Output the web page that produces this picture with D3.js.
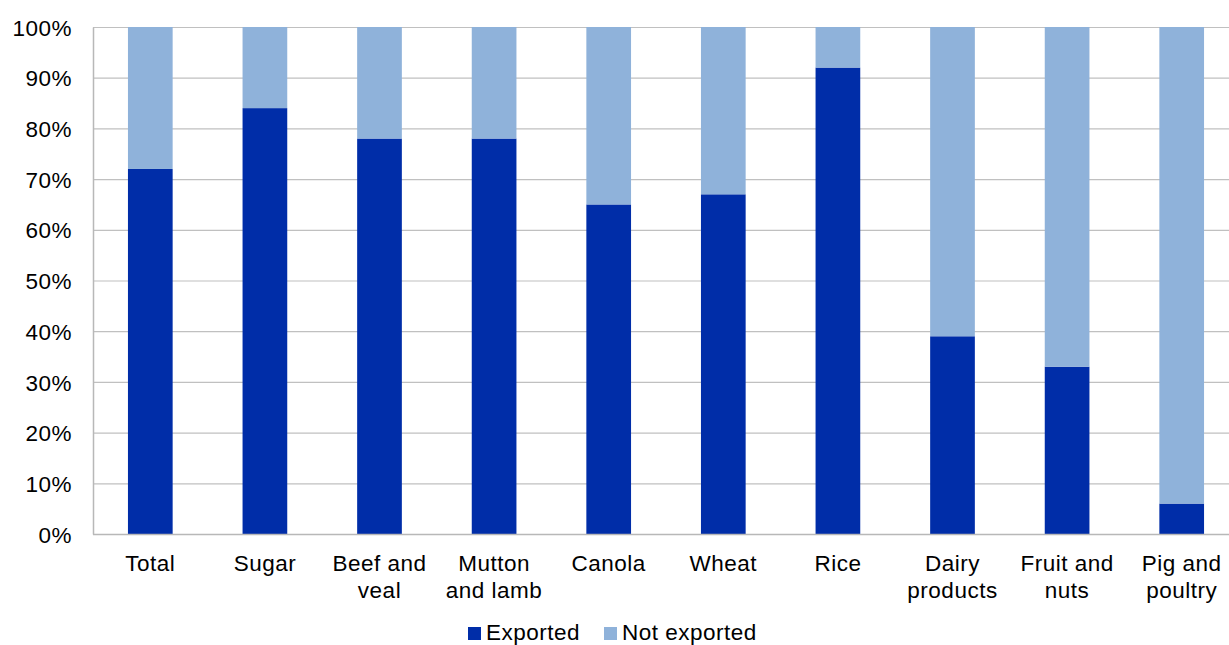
<!DOCTYPE html>
<html>
<head>
<meta charset="utf-8">
<script src="https://cdn.jsdelivr.net/npm/d3@7"></script>
<style>
  html, body { margin: 0; padding: 0; background: #fff; }
  svg { display: block; font-family: "Liberation Sans", Arial, sans-serif; }
  text { letter-spacing: 0.5px; }
</style>
</head>
<body>
<svg id="chart" width="1229" height="645"></svg>
<script>
// Share of production exported, by commodity
const categories = ["Total", "Sugar", "Beef and\nveal", "Mutton\nand lamb", "Canola", "Wheat", "Rice", "Dairy\nproducts", "Fruit and\nnuts", "Pig and\npoultry"];
const exported = [72, 84, 78, 78, 65, 67, 92, 39, 33, 6];
const notExported = exported.map(v => 100 - v);
const yTicks = [0, 10, 20, 30, 40, 50, 60, 70, 80, 90, 100];
const seriesNames = ["Exported", "Not exported"];
const seriesColors = ["#002DA8", "#8FB2DA"];

const svg = d3.select("#chart");
const margin = { left: 93, top: 27, right: 1239, bottom: 534 };
const fontSize = 22.5;

const x = d3.scaleBand()
  .domain(categories)
  .range([margin.left, margin.right])
  .paddingInner(0.61)
  .paddingOuter(0.305);

const y = d3.scaleLinear().domain([0, 100]).range([margin.bottom, margin.top]);

// Gridlines
svg.append("g")
  .selectAll("line")
  .data(yTicks)
  .join("line")
  .attr("x1", margin.left)
  .attr("x2", 1229)
  .attr("y1", d => y(d) + 0.5)
  .attr("y2", d => y(d) + 0.5)
  .attr("stroke", "#c0c0c0")
  .attr("stroke-width", 1.2);

// Y axis
const yAxis = d3.axisLeft(y).tickValues(yTicks).tickFormat(d => d + "%").tickSize(0).tickPadding(21);
const gy = svg.append("g").attr("transform", `translate(${margin.left},0)`).call(yAxis);
gy.select(".domain").attr("stroke", "#b8b8b8").attr("stroke-width", 1.5);
gy.selectAll("text").attr("font-size", fontSize).attr("fill", "#000").attr("dy", "0.36em")
  .attr("font-family", "Liberation Sans, Arial, sans-serif");

// Stacked bars
const rows = categories.map((c, i) => ({ cat: c, Exported: exported[i], "Not exported": notExported[i] }));
const stack = d3.stack().keys(seriesNames)(rows);

svg.append("g")
  .selectAll("g")
  .data(stack)
  .join("g")
  .attr("fill", (d, i) => seriesColors[i])
  .selectAll("rect")
  .data(d => d)
  .join("rect")
  .attr("x", d => x(d.data.cat))
  .attr("width", x.bandwidth())
  .attr("y", d => y(d[1]))
  .attr("height", d => y(d[0]) - y(d[1]));

// X axis baseline
svg.append("line")
  .attr("x1", margin.left).attr("x2", 1229)
  .attr("y1", y(0) + 0.5).attr("y2", y(0) + 0.5)
  .attr("stroke", "#b8b8b8").attr("stroke-width", 1.5);

// Category labels
const xl = svg.append("g");
categories.forEach(c => {
  const lines = c.split("\n");
  const cx = x(c) + x.bandwidth() / 2;
  const t = xl.append("text")
    .attr("x", cx)
    .attr("y", 571)
    .attr("text-anchor", "middle")
    .attr("font-size", fontSize)
    .attr("fill", "#000");
  lines.forEach((ln, j) => {
    t.append("tspan").attr("x", cx).attr("dy", j === 0 ? 0 : 27).text(ln);
  });
});

// Legend
const legend = svg.append("g");
const legendX = [468, 604];
seriesNames.forEach((name, i) => {
  legend.append("rect")
    .attr("x", legendX[i]).attr("y", 627)
    .attr("width", 13).attr("height", 13)
    .attr("fill", seriesColors[i]);
  legend.append("text")
    .attr("x", legendX[i] + 18).attr("y", 640)
    .attr("font-size", fontSize).attr("fill", "#000")
    .text(name);
});
</script>
</body>
</html>
